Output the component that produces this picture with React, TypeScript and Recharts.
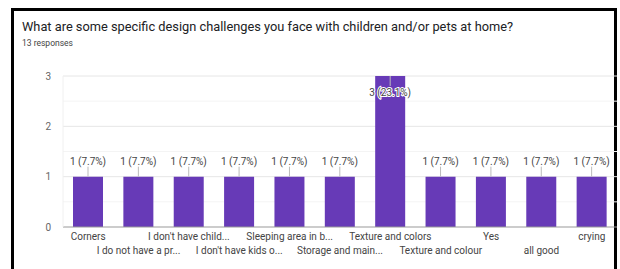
import React from "react";
import { BarChart, Bar, XAxis, YAxis, CartesianGrid, LabelList } from "recharts";

const TITLE = "What are some specific design challenges you face with children and/or pets at home?";
const SUBTITLE = "13 responses";

const CATEGORIES = [
  "Corners",
  "I do not have a pr...",
  "I don't have child...",
  "I don't have kids o...",
  "Sleeping area in b...",
  "Storage and main...",
  "Texture and colors",
  "Texture and colour",
  "Yes",
  "all good",
  "crying",
];
const COUNTS = [1, 1, 1, 1, 1, 1, 3, 1, 1, 1, 1];
const PERCENTS = ["7.7%", "7.7%", "7.7%", "7.7%", "7.7%", "7.7%", "23.1%", "7.7%", "7.7%", "7.7%", "7.7%"];
// major ticks are labelled, the half steps only get a faint gridline
const Y_TICKS = [0, 0.5, 1, 1.5, 2, 2.5, 3];

const BAR_COLOR = "#673ab7";
const FONT = "Roboto, Arial, sans-serif";

const data = CATEGORIES.map((name, i) => ({
  name,
  count: COUNTS[i],
  label: `${COUNTS[i]} (${PERCENTS[i]})`,
}));

const PLOT_TOP = 76;

function BarLabel(props: any) {
  const { x, y, width, value } = props;
  const cx = x + width / 2;
  const inside = y - 20 < PLOT_TOP;
  if (inside) {
    return (
      <g>
        <line x1={cx} x2={cx} y1={y} y2={y + 10} stroke="#bbb" strokeWidth={1} />
        <text
          x={cx}
          y={y + 20}
          textAnchor="middle"
          fontSize={10}
          fontFamily={FONT}
          fill="#444"
          stroke="#fff"
          strokeWidth={2}
          paintOrder="stroke"
        >
          {value}
        </text>
      </g>
    );
  }
  return (
    <g>
      <line x1={cx} x2={cx} y1={y} y2={y - 10} stroke="#bbb" strokeWidth={1} />
      <text x={cx} y={y - 12} textAnchor="middle" fontSize={10} fontFamily={FONT} fill="#444">
        {value}
      </text>
    </g>
  );
}

function XTick(props: any) {
  const { x, y, payload, index } = props;
  const row = index % 2;
  return (
    <text
      x={x}
      y={y + (row === 0 ? 9 : 23)}
      textAnchor="middle"
      fontSize={10}
      fontFamily={FONT}
      fill="#444"
    >
      {payload.value}
    </text>
  );
}

function GridLine(props: any) {
  const { x1, x2, y1, y2, index } = props;
  if (index === 0) return <g />;
  const minor = index % 2 === 1;
  return <line x1={x1} x2={x2} y1={y1} y2={y2} stroke={minor ? "#f4f4f4" : "#e6e6e6"} strokeWidth={1} />;
}

export default function App() {
  return (
    <div
      style={{
        position: "fixed",
        left: 0,
        top: 0,
        width: 620,
        height: 269,
        background: "#fff",
        overflow: "hidden",
        fontFamily: FONT,
      }}
    >
      <div
        style={{
          position: "absolute",
          left: 11,
          top: 8,
          width: 606,
          height: 270,
          borderTop: "3px solid #000",
          borderLeft: "3px solid #000",
          borderRight: "3px solid #000",
          boxSizing: "border-box",
        }}
      />
      <div
        style={{
          position: "absolute",
          left: 22,
          top: 19,
          fontSize: 12.8,
          color: "#202124",
          whiteSpace: "nowrap",
        }}
      >
        {TITLE}
      </div>
      <div style={{ position: "absolute", left: 22, top: 38, fontSize: 8.5, color: "#444" }}>
        {SUBTITLE}
      </div>
      <div style={{ position: "absolute", left: 0, top: 0 }}>
        <BarChart
          width={620}
          height={269}
          data={data}
          margin={{ top: PLOT_TOP, right: 3, bottom: 12, left: 20 }}
        >
          <CartesianGrid vertical={false} horizontal={(p: any) => <GridLine {...p} />} />
          <XAxis
            dataKey="name"
            interval={0}
            height={30}
            tickLine={false}
            axisLine={{ stroke: "#999" }}
            tick={<XTick />}
            tickSize={0}
            tickMargin={4}
          />
          <YAxis
            domain={[0, 3]}
            ticks={Y_TICKS}
            interval={0}
            width={43}
            axisLine={{ stroke: "#f0f0f0" }}
            tickLine={false}
            tickSize={0}
            tickMargin={12}
            tickFormatter={(v: number) => (Number.isInteger(v) ? String(v) : "")}
            tick={{ fontSize: 10, fill: "#666", fontFamily: FONT }}
          />
          <Bar dataKey="count" fill={BAR_COLOR} barSize={30} isAnimationActive={false}>
            <LabelList dataKey="label" content={<BarLabel />} />
          </Bar>
        </BarChart>
      </div>
    </div>
  );
}
